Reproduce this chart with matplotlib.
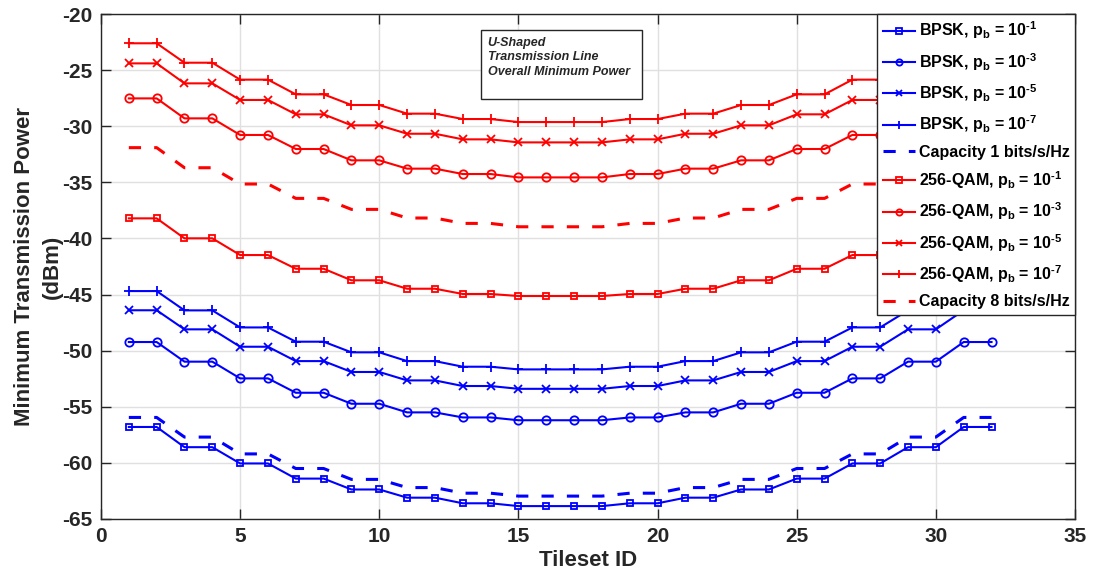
import matplotlib
matplotlib.use("Agg")
import matplotlib.pyplot as plt
from matplotlib.patches import Rectangle
import numpy as np

plt.rcParams['font.family'] = ['Liberation Sans', 'DejaVu Sans']
plt.rcParams['font.weight'] = 'bold'
plt.rcParams['axes.unicode_minus'] = False
plt.rcParams['mathtext.fontset'] = 'custom'
plt.rcParams['mathtext.rm'] = 'Liberation Sans:bold'
plt.rcParams['mathtext.it'] = 'Liberation Sans:bold'
plt.rcParams['mathtext.bf'] = 'Liberation Sans:bold'
plt.rcParams['mathtext.default'] = 'bf'

tileset = np.arange(1, 33)

# levels: pairs (1,2),(3,4),...,(13,14), then 15-18, mirrored
bpsk_1 = [-56.8, -56.8, -58.6, -58.6, -60.05, -60.05, -61.4, -61.4, -62.37, -62.37,
          -63.1, -63.1, -63.6, -63.6, -63.85, -63.85, -63.85, -63.85, -63.6, -63.6,
          -63.1, -63.1, -62.37, -62.37, -61.4, -61.4, -60.05, -60.05, -58.6, -58.6,
          -56.8, -56.8]
bpsk_3 = [-49.23, -49.23, -50.98, -50.98, -52.47, -52.47, -53.75, -53.75, -54.73, -54.73,
          -55.5, -55.5, -55.95, -55.95, -56.2, -56.2, -56.2, -56.2, -55.95, -55.95,
          -55.5, -55.5, -54.73, -54.73, -53.75, -53.75, -52.47, -52.47, -50.98, -50.98,
          -49.23, -49.23]
bpsk_5 = [-46.4, -46.4, -48.1, -48.1, -49.65, -49.65, -50.93, -50.93, -51.9, -51.9,
          -52.65, -52.65, -53.15, -53.15, -53.4, -53.4, -53.4, -53.4, -53.15, -53.15,
          -52.65, -52.65, -51.9, -51.9, -50.93, -50.93, -49.65, -49.65, -48.1, -48.1,
          -46.4, -46.4]
bpsk_7 = [-44.69, -44.69, -46.41, -46.41, -47.93, -47.93, -49.2, -49.2, -50.15, -50.15,
          -50.93, -50.93, -51.43, -51.43, -51.67, -51.67, -51.67, -51.67, -51.43, -51.43,
          -50.93, -50.93, -50.15, -50.15, -49.2, -49.2, -47.93, -47.93, -46.41, -46.41,
          -44.69, -44.69]
cap_1 = [-55.95, -55.95, -57.7, -57.7, -59.2, -59.2, -60.5, -60.5, -61.47, -61.47,
         -62.2, -62.2, -62.7, -62.7, -62.96, -62.96, -62.96, -62.96, -62.7, -62.7,
         -62.2, -62.2, -61.47, -61.47, -60.5, -60.5, -59.2, -59.2, -57.7, -57.7,
         -55.95, -55.95]
qam_1 = [-38.21, -38.21, -39.99, -39.99, -41.48, -41.48, -42.7, -42.7, -43.73, -43.73,
         -44.48, -44.48, -44.95, -44.95, -45.13, -45.13, -45.13, -45.13, -44.95, -44.95,
         -44.48, -44.48, -43.73, -43.73, -42.7, -42.7, -41.48, -41.48, -39.99, -39.99,
         -38.21, -38.21]
qam_3 = [-27.52, -27.52, -29.3, -29.3, -30.78, -30.78, -32.03, -32.03, -33.04, -33.04,
         -33.78, -33.78, -34.26, -34.26, -34.56, -34.56, -34.56, -34.56, -34.26, -34.26,
         -33.78, -33.78, -33.04, -33.04, -32.03, -32.03, -30.78, -30.78, -29.3, -29.3,
         -27.52, -27.52]
qam_5 = [-24.4, -24.4, -26.18, -26.18, -27.66, -27.66, -28.94, -28.94, -29.92, -29.92,
         -30.67, -30.67, -31.17, -31.17, -31.44, -31.44, -31.44, -31.44, -31.17, -31.17,
         -30.67, -30.67, -29.92, -29.92, -28.94, -28.94, -27.66, -27.66, -26.18, -26.18,
         -24.4, -24.4]
qam_7 = [-22.61, -22.61, -24.34, -24.34, -25.85, -25.85, -27.16, -27.16, -28.11, -28.11,
         -28.88, -28.88, -29.36, -29.36, -29.63, -29.63, -29.63, -29.63, -29.36, -29.36,
         -28.88, -28.88, -28.11, -28.11, -27.16, -27.16, -25.85, -25.85, -24.34, -24.34,
         -22.61, -22.61]
cap_8 = [-31.91, -31.91, -33.7, -33.7, -35.15, -35.15, -36.43, -36.43, -37.41, -37.41,
         -38.18, -38.18, -38.66, -38.66, -38.96, -38.96, -38.96, -38.96, -38.66, -38.66,
         -38.18, -38.18, -37.41, -37.41, -36.43, -36.43, -35.15, -35.15, -33.7, -33.7,
         -31.91, -31.91]

exps = ['-1', '-3', '-5', '-7']
markers = ['s', 'o', 'x', '+']
msizes = [5, 6, 6, 7.5]

fig = plt.figure(figsize=(10.93, 5.83), dpi=100)
ax = fig.add_axes([101 / 1093, 1 - 519 / 583, 974 / 1093, 505 / 583])

for data, e, m, ms in zip([bpsk_1, bpsk_3, bpsk_5, bpsk_7], exps, markers, msizes):
    ax.plot(tileset, data, color='blue', lw=1.5, marker=m, ms=ms, mfc='none', mew=1.3,
            label='BPSK, $p_b$ = $10^{\\text{' + e + '}}$')
ax.plot(tileset, cap_1, color='blue', lw=2.2, ls=(0, (4, 4.3)), label='Capacity 1 bits/s/Hz')
for data, e, m, ms in zip([qam_1, qam_3, qam_5, qam_7], exps, markers, msizes):
    ax.plot(tileset, data, color='red', lw=1.5, marker=m, ms=ms, mfc='none', mew=1.3,
            label='256-QAM, $p_b$ = $10^{\\text{' + e + '}}$')
ax.plot(tileset, cap_8, color='red', lw=2.2, ls=(0, (4, 4.3)), label='Capacity 8 bits/s/Hz')

ax.set_xlim(0, 35)
ax.set_ylim(-65, -20)
ax.set_xticks(np.arange(0, 36, 5))
ax.set_yticks(np.arange(-65, -19, 5))
ax.grid(True, color='#e0e0e0', lw=1)
ax.set_axisbelow(True)
ax.tick_params(direction='in', length=7, width=1, top=True, right=True,
               labelsize=15, color='#262626', labelcolor='#262626', pad=6)
for lab in ax.get_xticklabels() + ax.get_yticklabels():
    lab.set_fontweight('bold')
for s in ax.spines.values():
    s.set_color('#262626')
    s.set_linewidth(1)

ax.set_xlabel('Tileset ID', fontsize=16, fontweight='bold', color='#262626', labelpad=3)
ax.set_ylabel('Minimum Transmission Power\n(dBm)', fontsize=16, fontweight='bold',
              color='#262626', labelpad=0, linespacing=1.4)

leg = ax.legend(loc='upper right', borderaxespad=0, fontsize=11.5, fancybox=False,
                edgecolor='#262626', framealpha=1, handlelength=2.0, handletextpad=0.25,
                labelspacing=0.6, borderpad=0.35, markerscale=0.75)
leg.get_frame().set_linewidth(1)

# annotation box
ax.add_patch(Rectangle((0.390, 0.832), 0.165, 0.136, transform=ax.transAxes,
                       fill=True, fc='white', ec='#262626', lw=1, zorder=5))
ax.text(0.397, 0.955, 'U-Shaped\nTransmission Line\nOverall Minimum Power',
        transform=ax.transAxes, fontsize=9, fontweight='bold', fontstyle='italic',
        va='top', ha='left', linespacing=1.3, color='#262626', zorder=6)

fig.savefig('out.png', dpi=100)
